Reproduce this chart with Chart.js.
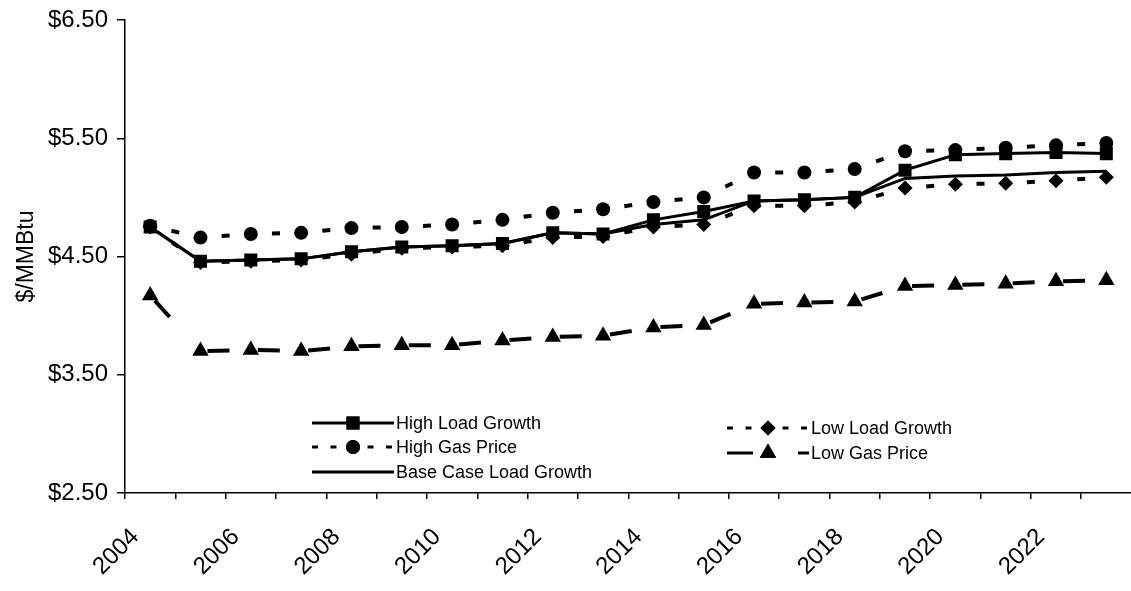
<!DOCTYPE html>
<html>
<head>
<meta charset="utf-8">
<title>Gas price forecast</title>
<script src="https://cdn.jsdelivr.net/npm/chart.js@4.4.1/dist/chart.umd.min.js"></script>
<style>
  html, body { margin: 0; padding: 0; background: #fff; overflow: hidden; }
  #wrap { width: 1141px; height: 591px; }
</style>
</head>
<body>
<div id="wrap"><canvas id="chart"></canvas></div>
<script>
// forecast years and $/MMBtu values per scenario
const years = ['2004', '2005', '2006', '2007', '2008', '2009', '2010', '2011', '2012', '2013',
               '2014', '2015', '2016', '2017', '2018', '2019', '2020', '2021', '2022', '2023'];

const highLoadGrowth = [4.75, 4.46, 4.47, 4.48, 4.54, 4.58, 4.59, 4.61, 4.70, 4.69,
                        4.81, 4.88, 4.97, 4.98, 5.00, 5.23, 5.36, 5.37, 5.38, 5.37];
const highGasPrice   = [4.76, 4.66, 4.69, 4.70, 4.74, 4.75, 4.77, 4.81, 4.87, 4.90,
                        4.96, 5.00, 5.21, 5.21, 5.24, 5.39, 5.40, 5.42, 5.44, 5.46];
const baseCaseLoadGrowth = [4.75, 4.46, 4.47, 4.48, 4.54, 4.58, 4.59, 4.61, 4.70, 4.69,
                            4.77, 4.81, 4.97, 4.98, 5.00, 5.16, 5.18, 5.19, 5.21, 5.22];
const lowLoadGrowth  = [4.75, 4.45, 4.46, 4.47, 4.52, 4.57, 4.58, 4.59, 4.66, 4.67,
                        4.75, 4.77, 4.93, 4.93, 4.96, 5.08, 5.11, 5.12, 5.14, 5.17];
const lowGasPrice    = [4.17, 3.70, 3.71, 3.70, 3.74, 3.75, 3.75, 3.79, 3.82, 3.83,
                        3.90, 3.92, 4.10, 4.11, 4.12, 4.25, 4.26, 4.27, 4.29, 4.30];

const yTicks = [2.5, 3.5, 4.5, 5.5, 6.5];

const FONT = 'Arial, "Liberation Sans", sans-serif';
Chart.defaults.font.family = FONT;
Chart.defaults.color = '#000';

// restart the dash pattern on every segment so each gap gets its own dash
function segLen(ctx) {
  return Math.hypot(ctx.p1.x - ctx.p0.x, ctx.p1.y - ctx.p0.y);
}
const centeredDash = {
  borderDash: [8, 1000],
  borderDashOffset: ctx => -(segLen(ctx) / 2 - 4) + ctx.p0DataIndex * 1e-6
};
const leadingDash = {
  borderDash: [22, 1000],
  borderDashOffset: ctx => -7 + ctx.p0DataIndex * 1e-6
};

function series(label, data, pointStyle, radius, extra) {
  return Object.assign({
    label: label,
    data: data,
    borderColor: '#000',
    backgroundColor: '#000',
    borderWidth: 3,
    pointStyle: pointStyle,
    pointRadius: radius,
    pointBorderWidth: 0,
    pointBackgroundColor: '#000',
    tension: 0
  }, extra || {});
}

const datasets = [
  series('High Load Growth', highLoadGrowth, 'rect', 9.2),
  series('High Gas Price', highGasPrice, 'circle', 7, { borderWidth: 4, segment: centeredDash, legendDash: [6, 12.5] }),
  series('Base Case Load Growth', baseCaseLoadGrowth, false, 0),
  series('Low Load Growth', lowLoadGrowth, 'rectRot', 7.5, { borderWidth: 4, segment: centeredDash, legendDash: [6, 12.5] }),
  series('Low Gas Price', lowGasPrice, 'triangle', 9.5, { borderWidth: 4, segment: leadingDash, legendDash: [26, 45, 12] })
];

// two-column legend drawn inside the plot
const legendSpots = [
  { x: 312, y: 423 }, { x: 312, y: 447 }, { x: 312, y: 472 },
  { x: 727, y: 428 }, { x: 727, y: 453 }
];
const boxLegend = {
  id: 'boxLegend',
  afterDraw(chart) {
    const c = chart.ctx;
    c.save();
    chart.data.datasets.forEach((ds, i) => {
      const p = legendSpots[i];
      const len = 82;
      c.strokeStyle = '#000';
      c.lineWidth = 3;
      c.lineCap = 'butt';
      c.setLineDash(ds.legendDash || []);
      c.beginPath();
      c.moveTo(p.x, p.y);
      c.lineTo(p.x + len, p.y);
      c.stroke();
      c.setLineDash([]);
      if (ds.pointStyle) {
        Chart.helpers.drawPoint(c, {
          pointStyle: ds.pointStyle,
          radius: ds.pointRadius,
          borderWidth: 0,
          rotation: 0
        }, p.x + 41, p.y);
        c.fillStyle = '#000';
        c.fill();
      }
      c.fillStyle = '#000';
      c.font = '18px ' + FONT;
      c.textAlign = 'left';
      c.textBaseline = 'middle';
      c.fillText(ds.label, p.x + len + 2, p.y + 1);
    });
    c.restore();
  }
};

new Chart(document.getElementById('chart'), {
  type: 'line',
  data: { labels: years, datasets: datasets },
  options: {
    responsive: true,
    maintainAspectRatio: false,
    animation: false,
    layout: { padding: { top: 20, left: 0, right: 0, bottom: 0 } },
    plugins: {
      legend: { display: false },
      tooltip: { enabled: false }
    },
    scales: {
      x: {
        type: 'category',
        offset: true,
        grid: { offset: true, drawOnChartArea: false, drawTicks: true, tickLength: 6, color: '#000', lineWidth: 1.5 },
        border: { display: true, color: '#000', width: 1.5 },
        ticks: {
          autoSkip: false,
          minRotation: 45,
          maxRotation: 45,
          padding: 24,
          labelOffset: -15,
          font: { size: 24 },
          callback: (v, i) => (i % 2 === 0 ? years[i] : '')
        },
        afterFit(scale) {
          scale.height = 98;
          scale.paddingLeft = 0;
          scale.paddingRight = 0;
        }
      },
      y: {
        min: 2.5,
        max: 6.5,
        afterBuildTicks(scale) {
          scale.ticks = yTicks.map(v => ({ value: v }));
        },
        grid: { drawOnChartArea: false, drawTicks: true, tickLength: 8, color: '#000', lineWidth: 1.5 },
        border: { display: true, color: '#000', width: 1.5 },
        ticks: {
          padding: 9,
          font: { size: 24 },
          callback: v => '$' + Number(v).toFixed(2)
        },
        title: {
          display: true,
          text: '$/MMBtu',
          font: { size: 23 },
          padding: { top: 13, bottom: 0 }
        },
        afterFit(scale) {
          scale.width = 125;
          scale.paddingTop = 0;
          scale.paddingBottom = 0;
        }
      }
    }
  },
  plugins: [boxLegend]
});
</script>
</body>
</html>
